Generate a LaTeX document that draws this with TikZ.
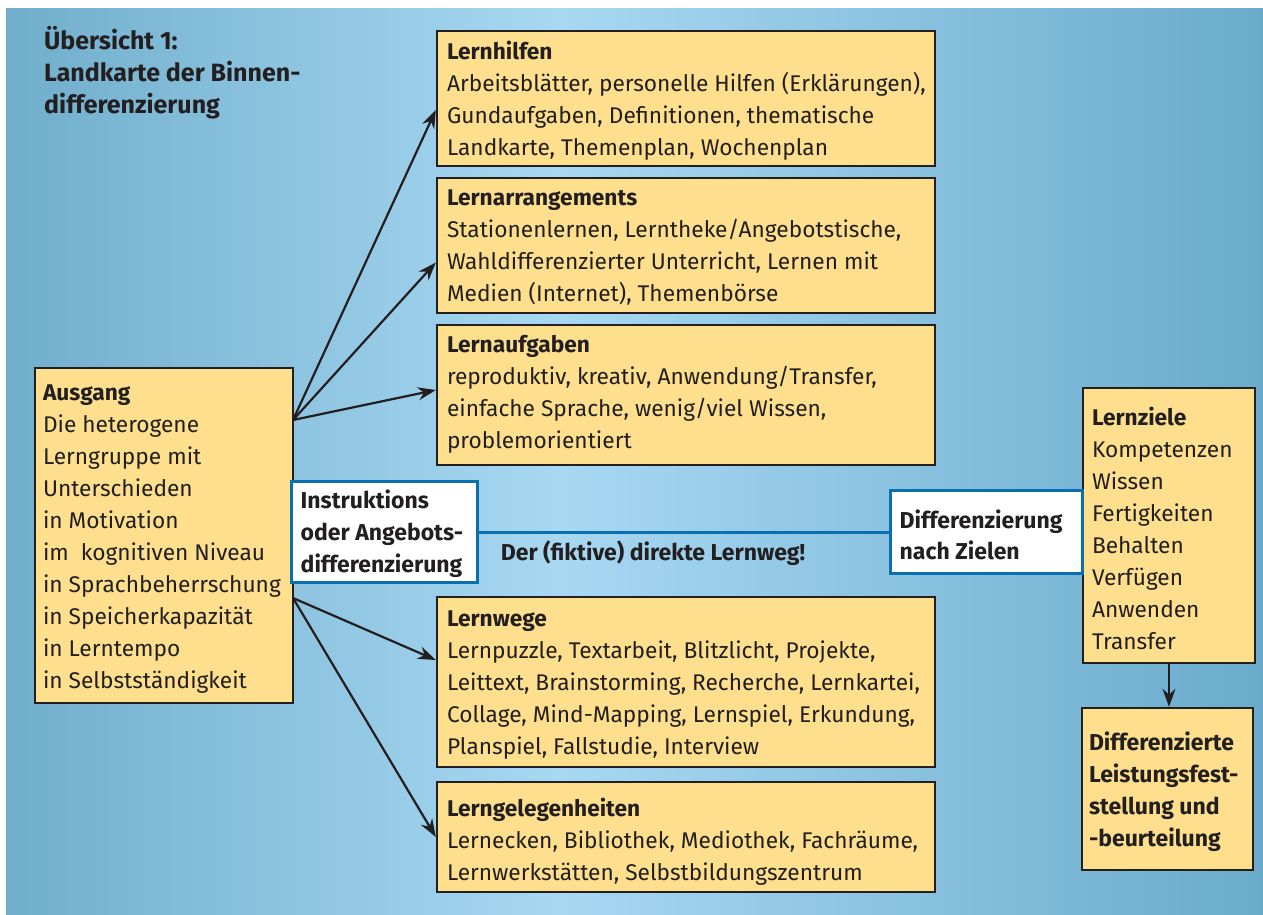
\documentclass[tikz,border=0pt]{standalone}
\usepackage{fontspec}
\setmainfont{Fira Sans}
\usetikzlibrary{arrows.meta,calc}
\definecolor{bgdark}{HTML}{70AECC}
\definecolor{bglight}{HTML}{A8D8F2}
\definecolor{bgright}{HTML}{6AABCC}
\definecolor{boxfill}{HTML}{FDDF8E}
\definecolor{ink}{HTML}{231F20}
\definecolor{bluebd}{HTML}{0A6FAE}
\tikzset{
  x=1pt,y=1pt,
  ybox/.style={draw=ink,line width=2.4pt,fill=boxfill,rectangle,inner sep=0pt},
  wbox/.style={draw=bluebd,line width=3pt,fill=white,rectangle,inner sep=0pt},
  txt/.style={anchor=west,align=left,inner sep=0pt,text=ink,font=\fontsize{22.7}{32}\selectfont},
  btxt/.style={txt,font=\fontsize{23}{32}\selectfont\bfseries},
  arr/.style={draw=ink,line width=2.2pt,-{Stealth[length=18pt,width=13pt]}},
}
\begin{document}
\begin{tikzpicture}
\useasboundingbox (0,0) rectangle (1263,-914);
\fill[white] (0,0) rectangle (1263,-914);
\shade[left color=bgdark,right color=bglight] (6,-8) rectangle (560,-914);
\shade[left color=bglight,right color=bgright] (559.5,-8) rectangle (1263,-914);

\node[txt,anchor=north west,font=\fontsize{25}{32}\selectfont\bfseries] (title) at (44,-26)
  {Übersicht 1:\\Landkarte der Binnen-\\differenzierung};

% yellow boxes
\node[ybox,minimum width=498pt,minimum height=135pt] (hilfen) at (686,-98.5) {};
\node[ybox,minimum width=498pt,minimum height=135pt] (arr) at (686,-245.5) {};
\node[ybox,minimum width=498pt,minimum height=140pt] (aufg) at (686,-395) {};
\node[ybox,minimum width=498pt,minimum height=170pt] (wege) at (686,-682) {};
\node[ybox,minimum width=498pt,minimum height=110pt] (gel) at (686,-837) {};
\node[ybox,minimum width=258pt,minimum height=335pt] (aus) at (164,-535.5) {};
\node[ybox,minimum width=172pt,minimum height=275pt] (ziele) at (1169,-525.5) {};
\node[ybox,minimum width=171pt,minimum height=162pt] (leist) at (1167.5,-789) {};
% white boxes
\node[wbox,minimum width=186pt,minimum height=101pt] (instr) at (384,-532) {};
\node[wbox,minimum width=192pt,minimum height=83pt] (dz) at (986,-532) {};

% texts
\node[txt] (hilfen-t) at ([xshift=11pt,yshift=-2.5pt]hilfen.west)
  {\textbf{Lernhilfen}\\Arbeitsblätter, personelle Hilfen (Erklärungen),\\Gundaufgaben, Definitionen, thematische\\Landkarte, Themenplan, Wochenplan};
\node[txt] (arr-t) at ([xshift=11pt,yshift=-2.5pt]arr.west)
  {\textbf{Lernarrangements}\\Stationenlernen, Lerntheke/Angebotstische,\\Wahldifferenzierter Unterricht, Lernen mit\\Medien (Internet), Themenbörse};
\node[txt] (aufg-t) at ([xshift=11pt,yshift=1pt]aufg.west)
  {\textbf{Lernaufgaben}\\reproduktiv, kreativ, Anwendung/Transfer,\\einfache Sprache, wenig/viel Wissen,\\problemorientiert};
\node[txt] (wege-t) at ([xshift=11pt,yshift=-3pt]wege.west)
  {\textbf{Lernwege}\\Lernpuzzle, Textarbeit, Blitzlicht, Projekte,\\Leittext, Brainstorming, Recherche, Lernkartei,\\Collage, Mind-Mapping, Lernspiel, Erkundung,\\Planspiel, Fallstudie, Interview};
\node[txt] (gel-t) at ([xshift=11pt,yshift=-5pt]gel.west)
  {\textbf{Lerngelegenheiten}\\Lernecken, Bibliothek, Mediothek, Fachräume,\\Lernwerkstätten, Selbstbildungszentrum};
\node[txt] (aus-t) at ([xshift=9pt,yshift=-3.5pt]aus.west)
  {\textbf{Ausgang}\\Die heterogene\\Lerngruppe mit\\Unterschieden\\in Motivation\\im\ \ kognitiven Niveau\\in Sprachbeherrschung\\in Speicherkapazität\\in Lerntempo\\in Selbstständigkeit};
\node[txt] (ziele-t) at ([xshift=10pt,yshift=-2.5pt]ziele.west)
  {\textbf{Lernziele}\\Kompetenzen\\Wissen\\Fertigkeiten\\Behalten\\Verfügen\\Anwenden\\Transfer};
\node[btxt] (leist-t) at ([xshift=8pt,yshift=-3pt]leist.west)
  {Differenzierte\\Leistungsfest-\\stellung und\\-beurteilung};
\node[btxt] (instr-t) at ([xshift=11pt,yshift=-2pt]instr.west)
  {Instruktions\\oder Angebots-\\differenzierung};
\node[btxt,font=\fontsize{23}{31}\selectfont\bfseries] (dz-t) at ([xshift=11pt,yshift=-3pt]dz.west)
  {Differenzierung\\nach Zielen};

% blue connector
\draw[draw=bluebd,line width=3pt] (instr.east) -- (dz.west);
\node[btxt,anchor=center] (weg) at (653,-553) {Der (fiktive) direkte Lernweg!};

% arrows
\coordinate (o1) at (293,-420);
\coordinate (o2) at (293,-598);
\draw[arr] (o1) -- ([yshift=-11.5pt]hilfen.west);
\draw[arr] (o1) -- ([yshift=-17pt]arr.west);
\draw[arr] (o1) -- ([yshift=5pt]aufg.west);
\draw[arr] (o2) -- ([yshift=22pt]wege.west);
\draw[arr] (o2) -- (gel.west);
\draw[arr] (ziele.south) -- (ziele.south |- leist.north);
\end{tikzpicture}
\end{document}
